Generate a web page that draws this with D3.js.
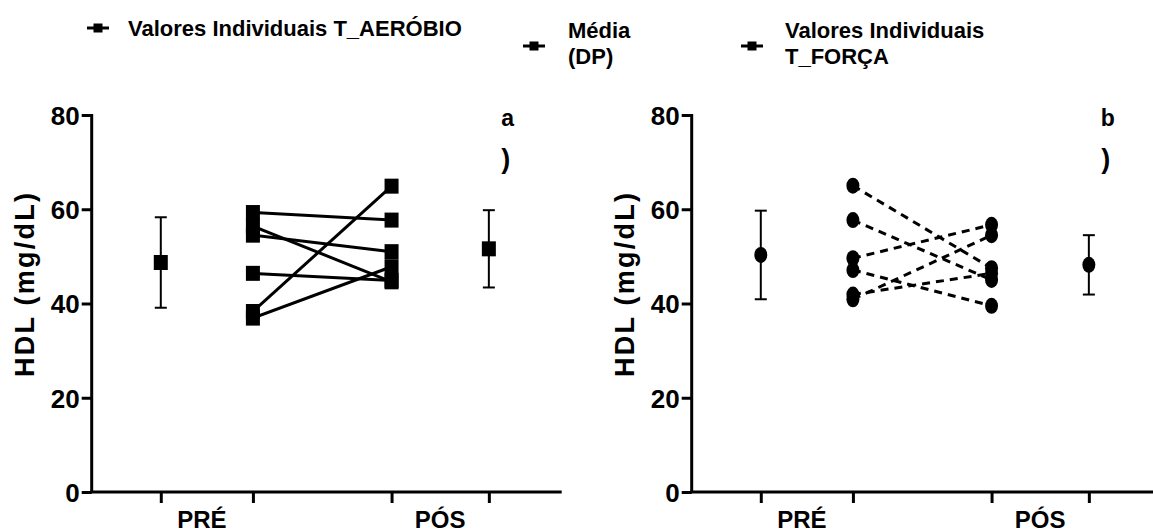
<!DOCTYPE html>
<html>
<head>
<meta charset="utf-8">
<script src="https://cdn.jsdelivr.net/npm/d3@7"></script>
<style>
  body { margin: 0; background: #fff; }
  text { font-family: "Liberation Sans", Arial, sans-serif; font-weight: bold; fill: #000; }
</style>
</head>
<body>
<svg></svg>
<script>
var WIDTH = 1153;
var HEIGHT = 532;

// x categories: mean PRE, individual PRE, individual POS, mean POS
var categories = ["mediaPre", "pre", "pos", "mediaPos"];
var groupLabels = ["PRÉ", "PÓS"];
var yTicks = [0, 20, 40, 60, 80];

// painel a) treino aeróbio
var aerobioPre = [59.3, 56.4, 54.5, 46.4, 38.3, 36.9];
var aerobioPos = [57.7, 44.6, 51.0, 44.9, 64.9, 47.8];
var aerobioMedia = [48.7, 51.6];
var aerobioDP = [9.6, 8.2];

// painel b) treino de força
var forcaPre = [65.0, 57.7, 49.6, 47.1, 41.9, 40.9];
var forcaPos = [47.5, 45.0, 56.7, 39.5, 46.4, 54.5];
var forcaMedia = [50.3, 48.2];
var forcaDP = [9.4, 6.3];

var legendLabels = [
    ["Valores Individuais T_AERÓBIO"],
    ["Média", "(DP)"],
    ["Valores Individuais", "T_FORÇA"]
];

var svg = d3.select("svg")
    .attr("width", WIDTH)
    .attr("height", HEIGHT);

var PLOT_TOP = 115;
var PLOT_BOTTOM = 492;
var PLOT_W = 470;

var y = d3.scaleLinear()
    .domain([0, 80])
    .range([PLOT_BOTTOM, PLOT_TOP]);

// uneven column spacing like the original
var x = d3.scaleOrdinal()
    .domain(categories)
    .range([0.147, 0.343, 0.638, 0.845].map(function(f) { return f * PLOT_W; }));

function drawPanel(left, pre, pos, media, dp, shape, dashed, letter)
{
    var g = svg.append("g").attr("transform", "translate(" + left + ",0)");

    // y axis
    var yAxis = g.append("g")
        .call(d3.axisLeft(y).tickValues(yTicks).tickSize(10).tickSizeOuter(0).tickPadding(2));
    yAxis.select(".domain").attr("stroke-width", 3).attr("d", "M0," + (PLOT_TOP - 1) + "V" + PLOT_BOTTOM);
    yAxis.selectAll(".tick line").attr("stroke-width", 3);
    yAxis.selectAll(".tick text")
        .attr("font-size", 26)
        .attr("dy", "0.36em")
        .attr("font-family", "Liberation Sans, Arial, sans-serif")
        .attr("font-weight", "bold");

    // x axis line + ticks
    g.append("line")
        .attr("x1", -1.5).attr("x2", PLOT_W)
        .attr("y1", PLOT_BOTTOM).attr("y2", PLOT_BOTTOM)
        .attr("stroke", "#000").attr("stroke-width", 3);

    var xAxis = g.append("g")
        .attr("transform", "translate(0," + PLOT_BOTTOM + ")")
        .call(d3.axisBottom(x).tickSize(11).tickFormat(""));
    xAxis.select(".domain").remove();
    xAxis.selectAll(".tick line").attr("stroke-width", 3);

    g.selectAll(".grp")
        .data(groupLabels)
        .enter().append("text")
        .attr("class", "grp")
        .attr("x", function(d, i)
        {
            var a = x(categories[i * 2]);
            var b = x(categories[i * 2 + 1]);
            return (a + b) / 2 - (i == 0 ? 5 : 0);
        })
        .attr("y", 528)
        .attr("text-anchor", "middle")
        .attr("font-size", 24)
        .text(function(d) { return d; });

    // y title
    g.append("text")
        .attr("transform", "translate(-58,285) rotate(-90)")
        .attr("text-anchor", "middle")
        .attr("font-size", 27)
        .attr("textLength", 184)
        .attr("lengthAdjust", "spacing")
        .text("HDL (mg/dL)");

    // individual lines
    var pairs = pre.map(function(v, i) { return [v, pos[i]]; });
    g.selectAll(".ind")
        .data(pairs)
        .enter().append("line")
        .attr("class", "ind")
        .attr("x1", x("pre")).attr("x2", x("pos"))
        .attr("y1", function(d) { return y(d[0]); })
        .attr("y2", function(d) { return y(d[1]); })
        .attr("stroke", "#000")
        .attr("stroke-width", 3)
        .attr("stroke-dasharray", dashed ? "8,6" : null);

    var pts = [];
    pre.forEach(function(v) { pts.push({ c: "pre", v: v }); });
    pos.forEach(function(v) { pts.push({ c: "pos", v: v }); });
    media.forEach(function(v, i) { pts.push({ c: i == 0 ? "mediaPre" : "mediaPos", v: v }); });

    // error bars
    var eb = media.map(function(v, i) { return { c: i == 0 ? "mediaPre" : "mediaPos", v: v, dp: dp[i] }; });
    var ebg = g.selectAll(".eb").data(eb).enter().append("g").attr("class", "eb");
    ebg.append("line")
        .attr("x1", function(d) { return x(d.c); }).attr("x2", function(d) { return x(d.c); })
        .attr("y1", function(d) { return y(d.v + d.dp); })
        .attr("y2", function(d) { return y(d.v - d.dp); })
        .attr("stroke", "#000").attr("stroke-width", 2);
    [1, -1].forEach(function(s)
    {
        ebg.append("line")
            .attr("x1", function(d) { return x(d.c) - 6; })
            .attr("x2", function(d) { return x(d.c) + 6; })
            .attr("y1", function(d) { return y(d.v + s * d.dp); })
            .attr("y2", function(d) { return y(d.v + s * d.dp); })
            .attr("stroke", "#000").attr("stroke-width", 2);
    });

    // markers
    if (shape == "square")
    {
        g.selectAll(".pt").data(pts).enter().append("rect")
            .attr("x", function(d) { return x(d.c) - 7; })
            .attr("y", function(d) { return y(d.v) - 7.5; })
            .attr("width", 14).attr("height", 15)
            .attr("fill", "#000");
    }
    else
    {
        g.selectAll(".pt").data(pts).enter().append("ellipse")
            .attr("cx", function(d) { return x(d.c); })
            .attr("cy", function(d) { return y(d.v); })
            .attr("rx", 6.5).attr("ry", 8)
            .attr("fill", "#000");
    }

    // panel letter
    g.append("text")
        .attr("x", PLOT_W - 54).attr("y", 126)
        .attr("text-anchor", "middle")
        .attr("font-size", 23)
        .text(letter);
    g.append("text")
        .attr("x", PLOT_W - 56).attr("y", 168)
        .attr("text-anchor", "middle")
        .attr("font-size", 27)
        .text(")");
}

drawPanel(91.7, aerobioPre, aerobioPos, aerobioMedia, aerobioDP, "square", false, "a");
drawPanel(691.7, forcaPre, forcaPos, forcaMedia, forcaDP, "circle", true, "b");

// legend
var legendPos = [[98, 28, 128, 36], [534, 46, 568, 38], [752, 46, 785, 38]];
var lg = svg.selectAll(".legend")
    .data(legendLabels)
    .enter().append("g")
    .attr("class", "legend");

lg.append("line")
    .attr("x1", function(d, i) { return legendPos[i][0] - 11; })
    .attr("x2", function(d, i) { return legendPos[i][0] + 11; })
    .attr("y1", function(d, i) { return legendPos[i][1]; })
    .attr("y2", function(d, i) { return legendPos[i][1]; })
    .attr("stroke", "#000").attr("stroke-width", 3);
lg.append("rect")
    .attr("x", function(d, i) { return legendPos[i][0] - 4.5; })
    .attr("y", function(d, i) { return legendPos[i][1] - 4.5; })
    .attr("width", 9).attr("height", 9)
    .attr("fill", "#000");
lg.each(function(d, i)
{
    var t = d3.select(this).append("text")
        .attr("x", legendPos[i][2])
        .attr("y", legendPos[i][3])
        .attr("font-size", 22);
    d.forEach(function(line, j)
    {
        t.append("tspan")
            .attr("x", legendPos[i][2])
            .attr("dy", j == 0 ? 0 : 26)
            .text(line);
    });
});
</script>
</body>
</html>
